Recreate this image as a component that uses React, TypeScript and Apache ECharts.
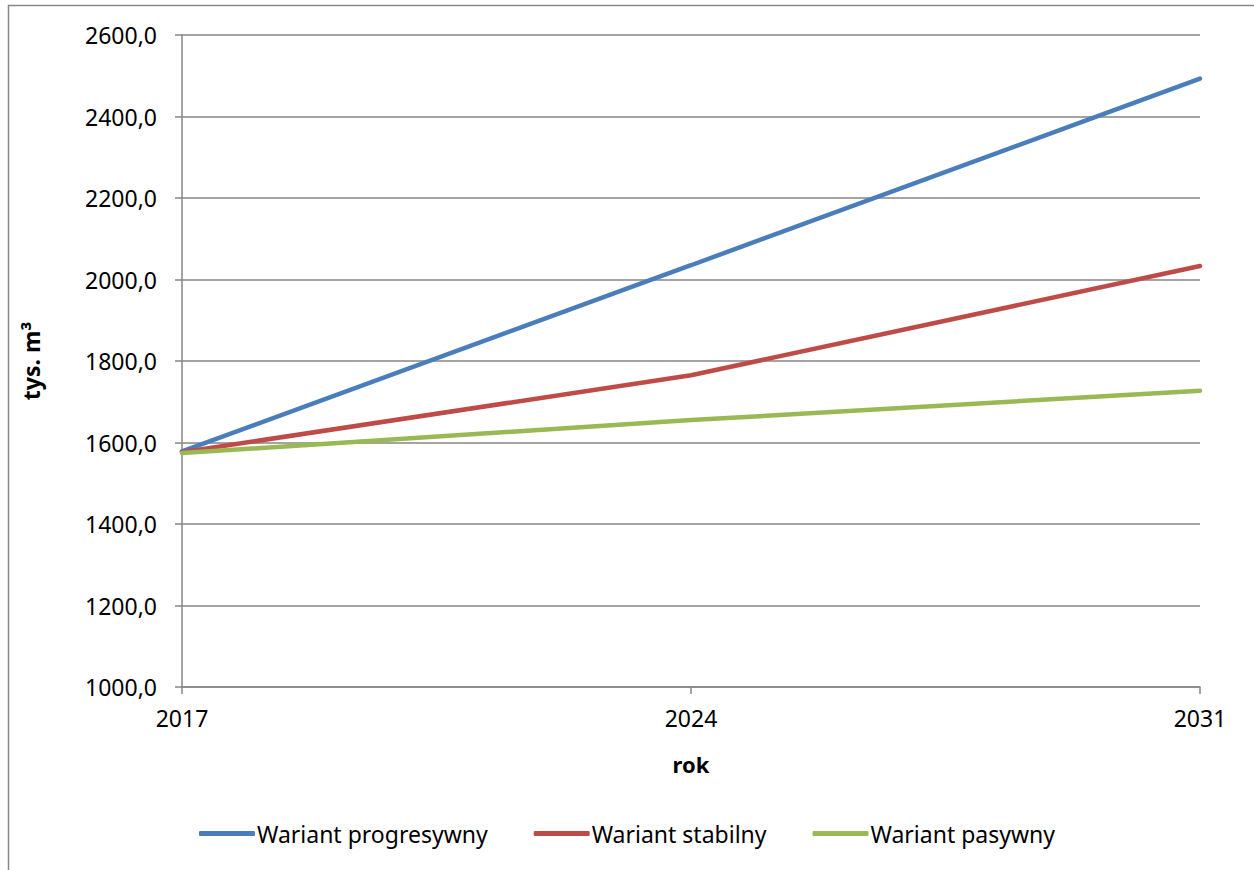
import React, { useEffect, useRef } from "react";
import * as echarts from "echarts";

const years = ["2017", "2024", "2031"];
const progresywny = [1578, 2035, 2493];
const stabilny = [1576, 1765, 2033];
const pasywny = [1574, 1655, 1727];
const seriesNames = ["Wariant progresywny", "Wariant stabilny", "Wariant pasywny"];
const colors = ["#4a7ebb", "#be4b48", "#98b954"];

const FONT = "'Noto Sans', sans-serif";

export default function App() {
  const ref = useRef<HTMLDivElement>(null);
  useEffect(() => {
    if (!ref.current) return;
    const chart = echarts.init(ref.current, undefined, { renderer: "svg" });
    const data = [progresywny, stabilny, pasywny];
    chart.setOption({
      animation: false,
      backgroundColor: "#ffffff",
      textStyle: { fontFamily: FONT },
      grid: { left: 182, top: 35, right: 54, bottom: 183, containLabel: false },
      xAxis: {
        type: "category",
        data: years,
        boundaryGap: false,
        axisLine: { show: true, lineStyle: { color: "#868686", width: 1.5 } },
        axisTick: { show: true, length: 7, lineStyle: { color: "#868686", width: 1.5 } },
        axisLabel: { color: "#000", fontSize: 23, margin: 19, fontFamily: FONT },
        splitLine: { show: false },
        name: "rok",
        nameLocation: "middle",
        nameGap: 66,
        nameTextStyle: { color: "#000", fontSize: 22, fontWeight: "bold", fontFamily: FONT },
      },
      yAxis: {
        type: "value",
        min: 1000,
        max: 2600,
        interval: 200,
        axisLine: { show: true, lineStyle: { color: "#868686", width: 1.5 } },
        axisTick: { show: true, length: 7, lineStyle: { color: "#868686", width: 1.5 } },
        axisLabel: {
          color: "#000",
          fontSize: 23,
          margin: 25,
          fontFamily: FONT,
          formatter: (v: number) => v.toFixed(1).replace(".", ","),
        },
        splitLine: { show: true, lineStyle: { color: "#868686", width: 1.5 } },
        name: "tys. m³",
        nameLocation: "middle",
        nameGap: 140,
        nameRotate: 90,
        nameTextStyle: { color: "#000", fontSize: 23, fontWeight: "bold", fontFamily: FONT },
      },
      legend: {
        left: "center",
        top: 817,
        icon: "roundRect",
        itemWidth: 56,
        itemHeight: 5,
        itemGap: 46,
        textStyle: { color: "#000", fontSize: 23, fontFamily: FONT, padding: [0, 0, 0, -3] },
        data: seriesNames,
      },
      graphic: [
        {
          type: "rect",
          shape: { x: 8.5, y: 5.5, width: 1400, height: 1000 },
          style: { fill: "none", stroke: "#888888", lineWidth: 1.5 },
          silent: true,
          z: -1,
        },
      ],
      series: seriesNames.map((name, i) => ({
        name,
        type: "line",
        data: data[i],
        showSymbol: false,
        symbol: "none",
        lineStyle: { color: colors[i], width: 4.5, cap: "round" },
        itemStyle: { color: colors[i] },
      })),
    });
    return () => chart.dispose();
  }, []);
  return (
    <div
      ref={ref}
      style={{ position: "fixed", left: 0, top: 0, width: 1254, height: 870, background: "#fff" }}
    />
  );
}
